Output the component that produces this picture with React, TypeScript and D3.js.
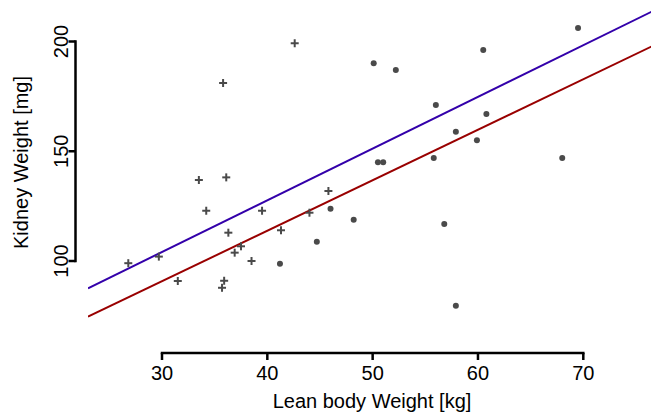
import React from "react";
import * as d3 from "d3";

const crossX = [26.8, 29.7, 31.5, 33.5, 34.2, 35.8, 36.1, 36.3, 35.9, 35.7, 36.9, 37.5, 38.5, 39.5, 41.3, 42.6, 44.0, 45.8];
const crossY = [99.0, 102.0, 90.9, 136.9, 122.9, 181.1, 138.1, 112.9, 91.0, 87.8, 103.8, 106.7, 100.0, 122.9, 114.0, 199.2, 122.0, 131.9];

const dotX = [69.5, 60.5, 50.1, 52.2, 56.0, 60.8, 57.9, 59.9, 50.5, 51.0, 55.8, 68.0, 46.0, 48.2, 44.7, 41.2, 56.8, 57.9];
const dotY = [206.2, 196.1, 190.1, 187.0, 171.1, 167.0, 158.9, 155.0, 145.0, 145.0, 146.9, 146.9, 123.8, 118.8, 108.8, 98.8, 116.9, 79.6];

const xTicks = [30, 40, 50, 60, 70];
const yTicks = [100, 150, 200];

const lineNames = ["upper", "lower"];
const lineIntercepts = [33.45, 21.75];
const lineSlopes = [2.355, 2.301];
const lineColors = ["#3300aa", "#990000"];

const FONT = "'Liberation Sans', Arial, Helvetica, sans-serif";

export default function App() {
  const W = 651, H = 417;
  const plot = { left: 88, right: 656, top: 0, bottom: 340 };
  const x = d3.scaleLinear().domain([30, 70]).range([162, 583.3]);
  const y = d3.scaleLinear().domain([100, 200]).range([261, 41.5]);
  const xMin = x.invert(plot.left), xMax = x.invert(plot.right);
  const axisY = 353;
  const axisX = 75.5;
  const tick = 7;
  const line = d3.line<[number, number]>().x(d => x(d[0])).y(d => y(d[1]));
  const cs = 4;

  return (
    <svg width={W} height={H} style={{ position: "absolute", left: 0, top: 0, background: "#fff" }} fontFamily={FONT}>
      <defs>
        <clipPath id="plotclip">
          <rect x={plot.left} y={plot.top} width={plot.right - plot.left} height={plot.bottom - plot.top} />
        </clipPath>
      </defs>
      <g clipPath="url(#plotclip)">
        {lineNames.map((n, i) => (
          <path key={n} d={line([[xMin, lineIntercepts[i] + lineSlopes[i] * xMin], [xMax, lineIntercepts[i] + lineSlopes[i] * xMax]]) || ""}
            stroke={lineColors[i]} strokeWidth={2} fill="none" />
        ))}
      </g>
      {crossX.map((v, i) => (
        <g key={"c" + i} stroke="#4a4a4a" strokeWidth={2}>
          <line x1={x(v) - cs} x2={x(v) + cs} y1={y(crossY[i])} y2={y(crossY[i])} />
          <line x1={x(v)} x2={x(v)} y1={y(crossY[i]) - cs} y2={y(crossY[i]) + cs} />
        </g>
      ))}
      {dotX.map((v, i) => (
        <circle key={"d" + i} cx={x(v)} cy={y(dotY[i])} r={3} fill="#4a4a4a" />
      ))}
      {/* x axis */}
      <g stroke="#000" strokeWidth={2.5} fill="none">
        <path d={`M${x(xTicks[0])},${axisY}H${x(xTicks[xTicks.length - 1])}`} strokeLinecap="square" />
        {xTicks.map(t => (
          <line key={t} x1={x(t)} x2={x(t)} y1={axisY} y2={axisY + tick} />
        ))}
      </g>
      {xTicks.map(t => (
        <text key={"xl" + t} x={x(t)} y={379.5} fontSize={20} textAnchor="middle" fill="#000">{t}</text>
      ))}
      <text x={(plot.left + plot.right) / 2} y={407.8} fontSize={20} textAnchor="middle" fill="#000">Lean body Weight [kg]</text>
      {/* y axis */}
      <g stroke="#000" strokeWidth={2.5} fill="none">
        <path d={`M${axisX},${y(yTicks[0])}V${y(yTicks[yTicks.length - 1])}`} strokeLinecap="square" />
        {yTicks.map(t => (
          <line key={t} x1={axisX} x2={axisX - tick} y1={y(t)} y2={y(t)} />
        ))}
      </g>
      {yTicks.map(t => (
        <text key={"yl" + t} transform={`translate(67.5,${y(t)}) rotate(-90)`} fontSize={20} textAnchor="middle" fill="#000">{t}</text>
      ))}
      <text transform={`translate(27.8,162.5) rotate(-90)`} fontSize={20} textAnchor="middle" fill="#000">Kidney Weight [mg]</text>
    </svg>
  );
}
